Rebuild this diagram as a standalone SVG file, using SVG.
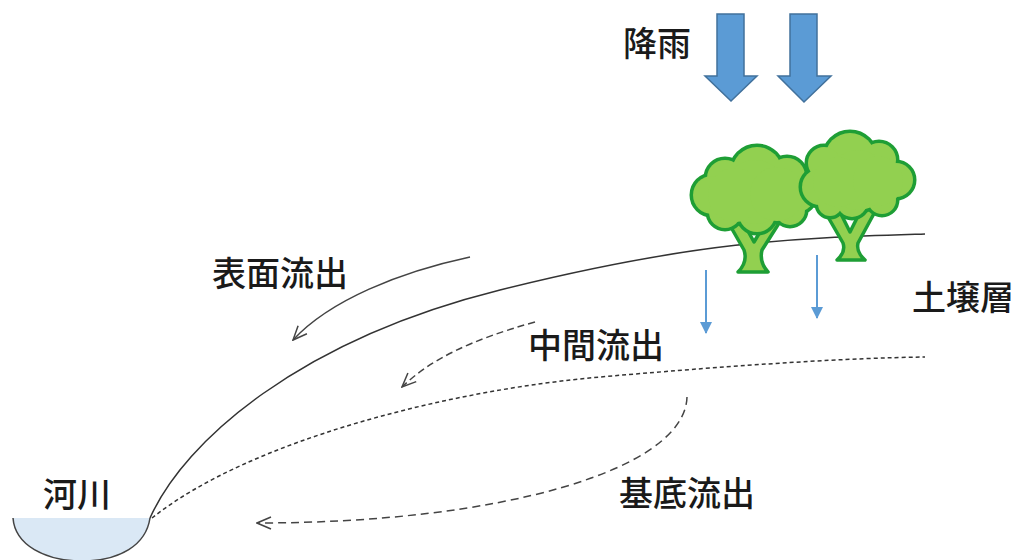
<svg xmlns="http://www.w3.org/2000/svg" xmlns:xlink="http://www.w3.org/1999/xlink" width="1012" height="560" viewBox="0 0 1012 560">
  <style>
    .lbl { font-family: "Noto Sans CJK JP", "Noto Sans", sans-serif; font-size: 34px; font-weight: 500; fill: #1a1a1a; }
    .flow { fill: none; stroke: #444; stroke-width: 1.5; }
    .ground { fill: none; stroke: #333; stroke-width: 1.5; }
    .seep { fill: none; stroke: #5b9bd5; stroke-width: 2; }
    .rain { fill: #5b9bd5; stroke: #41719c; stroke-width: 1.5; }
    .trunk { fill: #92d050; stroke: #1e9e35; stroke-width: 3.5; stroke-linejoin: round; }
  </style>
  <defs>
    <marker id="open" viewBox="0 0 16 16" refX="15" refY="8" markerWidth="16" markerHeight="16" markerUnits="userSpaceOnUse" orient="auto">
      <path d="M1,2 L15,8 L1,14" fill="none" stroke="#444" stroke-width="1.5"/>
    </marker>
    <marker id="blue" viewBox="0 0 12 12" refX="11" refY="6" markerWidth="12" markerHeight="12" markerUnits="userSpaceOnUse" orient="auto">
      <path d="M0,0 L12,6 L0,12 Z" fill="#5b9bd5"/>
    </marker>
    <!-- crowns are unions of circles: stroked copy underneath, plain fill on top -->
    <g id="crownA">
      <circle cx="757" cy="172" r="25"/>
      <circle cx="725" cy="178" r="18"/>
      <circle cx="787" cy="176" r="18"/>
      <circle cx="712" cy="195" r="19"/>
      <circle cx="797" cy="194" r="18"/>
      <circle cx="725" cy="212" r="16"/>
      <circle cx="757" cy="214" r="18"/>
      <circle cx="790" cy="210" r="15"/>
      <circle cx="755" cy="192" r="32"/>
      <circle cx="735" cy="195" r="27"/>
      <circle cx="777" cy="194" r="27"/>
    </g>
    <g id="crownB">
      <circle cx="850" cy="158" r="25"/>
      <circle cx="824" cy="163" r="16"/>
      <circle cx="879" cy="160" r="17"/>
      <circle cx="896" cy="180" r="17"/>
      <circle cx="820" cy="187" r="18"/>
      <circle cx="830" cy="204" r="12"/>
      <circle cx="852" cy="202" r="15"/>
      <circle cx="882" cy="200" r="14"/>
      <circle cx="858" cy="180" r="30"/>
      <circle cx="838" cy="182" r="25"/>
      <circle cx="878" cy="181" r="25"/>
    </g>
  </defs>

  <rect width="1012" height="560" fill="#ffffff"/>

  <!-- river channel -->
  <g id="river">
    <path d="M13,518 C15,545 45,561 82,561 C120,561 146,545 150,518 Z" fill="#dae8f5"/>
    <path d="M13,518 C15,545 45,561 82,561 C120,561 146,545 150,518" fill="none" stroke="#444" stroke-width="1.5"/>
  </g>

  <!-- land surface and soil layer boundary -->
  <g id="surface">
    <path class="ground" d="M150,518 C185,440 300,340 500,290 C700,240 800,238 925,234"/>
    <path class="ground" d="M152,518 C250,440 450,390 600,377 C750,364 850,358 925,357" stroke-dasharray="4 3"/>
  </g>

  <!-- rainfall -->
  <g id="rain">
    <polygon class="rain" points="717,14 744,14 744,76 757,76 731,101 705,76 717,76"/>
    <polygon class="rain" points="790,14 817,14 817,76 831,76 804,102 778,76 790,76"/>
  </g>

  <!-- trees -->
  <g id="tree-left">
    <path class="trunk" d="M738,272 Q748,262 744,250 L728,222 L743,222 L754,242 L766,222 L781,220 L762,250 Q759,262 768,272 Z"/>
    <use xlink:href="#crownA" fill="#92d050" stroke="#1e9e35" stroke-width="7"/>
    <use xlink:href="#crownA" fill="#92d050" stroke="none"/>
  </g>
  <g id="tree-right">
    <path class="trunk" d="M837,260 Q846,252 843,243 L824,210 L838,208 L850,232 L862,208 L877,208 L858,243 Q856,252 865,260 Z"/>
    <use xlink:href="#crownB" fill="#92d050" stroke="#1e9e35" stroke-width="7"/>
    <use xlink:href="#crownB" fill="#92d050" stroke="none"/>
  </g>

  <!-- water movement -->
  <g id="connectors">
    <path class="seep" d="M706,270 L706,333" marker-end="url(#blue)"/>
    <path class="seep" d="M817,255 L817,318" marker-end="url(#blue)"/>
    <path class="flow" d="M470,257 C400,272 330,300 293,340" marker-end="url(#open)"/>
    <path class="flow" d="M535,322 C470,340 430,360 402,387" stroke-dasharray="7 4" marker-end="url(#open)"/>
    <path class="flow" d="M687,397 C685,470 500,523 257,523" stroke-dasharray="8 5" marker-end="url(#open)"/>
  </g>

  <!-- labels -->
  <g id="label-rain"><text class="lbl" x="623" y="56">降雨</text></g>
  <g id="label-surface"><text class="lbl" x="212" y="286">表面流出</text></g>
  <g id="label-inter"><text class="lbl" x="528" y="358">中間流出</text></g>
  <g id="label-base"><text class="lbl" x="619" y="506">基底流出</text></g>
  <g id="label-soil"><text class="lbl" x="912" y="310">土壌層</text></g>
  <g id="label-river"><text class="lbl" x="43" y="507">河川</text></g>
</svg>
